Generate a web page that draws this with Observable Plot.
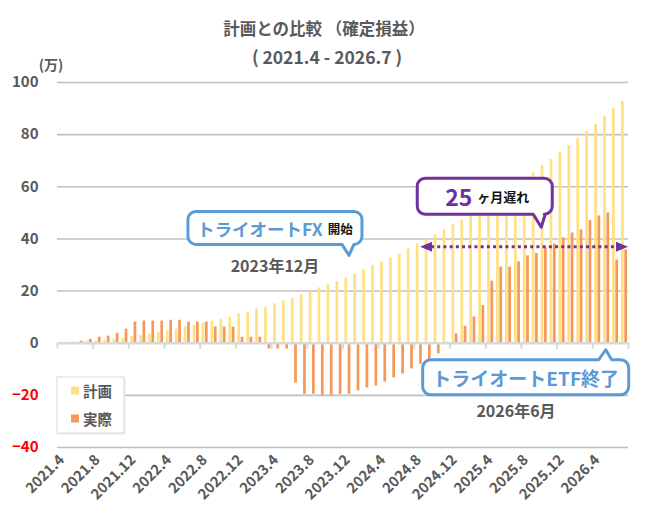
<!DOCTYPE html>
<html><head><meta charset="utf-8">
<script src="https://cdn.jsdelivr.net/npm/d3@7"></script>
<script src="https://cdn.jsdelivr.net/npm/@observablehq/plot@0.6"></script>
<style>
html,body{margin:0;padding:0;background:#fff;}
#chart{width:650px;height:531px;position:relative;}
</style></head><body><div id="chart"></div>
<script>
// ---- data ----
const startYear = 2021, startMonth = 4, monthCount = 64;
const months = Array.from({length: monthCount}, (_, i) => {
  const t = startMonth - 1 + i;
  return `${startYear + Math.floor(t / 12)}.${(t % 12) + 1}`;
});
const xTickLabels = ["2021.4","2021.8","2021.12","2022.4","2022.8","2022.12","2023.4","2023.8",
  "2023.12","2024.4","2024.8","2024.12","2025.4","2025.8","2025.12","2026.4"];
const plan = [0,0,0.4,0.8,0.8,1.2,1.5,1.9,2.7,3.1,3.5,4.2,4.6,5.4,6.2,6.9,7.7,8.5,9.2,10.0,
  11.3,11.9,13.1,13.8,15.1,16.2,17.3,18.6,19.7,21.2,22.4,23.6,25.0,26.5,28.1,29.7,31.2,32.7,34.2,36.2,
  38.1,39.6,41.5,43.5,45.4,47.3,49.5,51.5,53.5,55.5,57.5,60.0,62.0,65.3,68.2,70.4,73.2,75.8,78.5,81.2,
  83.8,87.1,90.0,92.7];
const actual = [0,0.4,0.8,1.5,2.3,2.7,3.8,5.4,8.1,8.5,8.5,8.5,8.8,8.8,8.1,8.1,8.1,6.2,6.2,6.2,
  2.3,2.3,2.3,-2.2,-2.2,-2.2,-15.3,-19.6,-19.6,-20.0,-20.0,-19.6,-19.6,-18.3,-17.2,-16.4,-14.9,-13.3,-11.8,-9.9,
  -8.1,-6.3,-4.0,0.4,3.6,6.5,10.1,14.4,23.8,29.2,29.2,31.2,33.5,34.4,36.5,38.0,40.4,42.3,43.5,47.0,
  48.8,50.0,31.9,35.8];
const yPositiveTicks = [0,20,40,60,80,100];
const yNegativeTicks = [-20,-40];
const gridValues = [-40,-20,20,40,60,80,100];
const seriesNames = ["計画","実際"];
const seriesColors = ["#FFE083","#F4995B"];
const titleText = "計画との比較 （確定損益）";
const subtitleText = "( 2021.4 - 2026.7 )";
const unitText = "(万)";

const rows = months.map((m, i) => ({month: m, plan: plan[i], actual: actual[i]}));

// ---- layout ----
const W = 650, H = 531, mL = 57, mR = 22, mT = 82, mB = 84;
const bw = (W - mL - mR) / months.length;
const FONT = '"Noto Sans CJK JP","Noto Sans",sans-serif';
const GRAY = "#595959";

const chart = Plot.plot({
  width: W, height: H,
  marginLeft: mL, marginRight: mR, marginTop: mT, marginBottom: mB,
  style: {fontFamily: FONT, fontWeight: "bold", background: "#fff", overflow: "visible"},
  x: {type: "band", domain: months, padding: 0},
  y: {domain: [-40, 100]},
  marks: [
    Plot.ruleY(gridValues, {stroke: "#c0c0c0", strokeWidth: 1.6}),
    Plot.barY(rows, {x: "month", y: "plan", fill: seriesColors[0], insetLeft: 1.9, insetRight: 4.3}),
    Plot.barY(rows, {x: "month", y: "actual", fill: seriesColors[1], insetLeft: 5.2, insetRight: 1.0}),
    Plot.ruleY([0], {stroke: "#d9d9d9", strokeWidth: 2.5}),
    Plot.ruleX(xTickLabels, {x: d => d, y1: 0, y2: -2.3, dx: -bw / 2, stroke: "#d9d9d9", strokeWidth: 2}),
    Plot.ruleX([months[months.length - 1]], {x: d => d, y1: 0, y2: -2.3, dx: bw / 2, stroke: "#d9d9d9", strokeWidth: 2}),
    Plot.axisX({ticks: xTickLabels, tickSize: 0, tickRotate: -45, tickPadding: 10, fontSize: 14.5, color: GRAY, label: null}),
    Plot.axisY(yPositiveTicks, {tickSize: 0, tickPadding: 19, fontSize: 15, color: GRAY, label: null}),
    Plot.axisY(yNegativeTicks, {tickSize: 0, tickPadding: 19, fontSize: 15, color: "#ff0000", label: null})
  ]
});
document.getElementById("chart").appendChild(chart);

// ---- annotations ----
const svg = d3.select(chart);
const xs = chart.scale("x"), ys = chart.scale("y");
const xc = m => xs.apply(m) + xs.bandwidth / 2;
const yv = v => ys.apply(v);
const xRight = xs.apply(months[months.length - 1]) + xs.bandwidth;

// titles
svg.append("text").attr("x", 324).attr("y", 28).attr("text-anchor", "middle").attr("dominant-baseline", "central")
  .attr("font-size", 16.5).attr("fill", GRAY).text(titleText);
svg.append("text").attr("x", 327).attr("y", 56).attr("text-anchor", "middle").attr("dominant-baseline", "central")
  .attr("font-size", 17.5).attr("fill", GRAY).text(subtitleText);
svg.append("text").attr("x", 51).attr("y", 64).attr("text-anchor", "middle").attr("dominant-baseline", "central")
  .attr("font-size", 14).attr("fill", GRAY).text(unitText);

function callout({x0, y0, x1, y1, r, side, b0, b1, tx, ty, color, sw}) {
  let p = `M${x0 + r},${y0}`;
  if (side === "top") p += `H${b0}L${tx},${ty}L${b1},${y0}`;
  p += `H${x1 - r}A${r},${r} 0 0 1 ${x1},${y0 + r}V${y1 - r}A${r},${r} 0 0 1 ${x1 - r},${y1}`;
  if (side === "bottom") p += `H${b1}L${tx},${ty}L${b0},${y1}`;
  p += `H${x0 + r}A${r},${r} 0 0 1 ${x0},${y1 - r}V${y0 + r}A${r},${r} 0 0 1 ${x0 + r},${y0}Z`;
  svg.append("path").attr("d", p).attr("fill", "#fff").attr("stroke", color)
    .attr("stroke-width", sw).attr("stroke-linejoin", "round");
}

const BLUE = "#5B9BD5", PURPLE = "#7030A0";

// dotted double arrow
{
  const y = yv(36.8), xl = xc("2024.8") + 1.7, xr = xRight;
  svg.append("line").attr("x1", xl + 11).attr("x2", xr - 11).attr("y1", y).attr("y2", y)
    .attr("stroke", PURPLE).attr("stroke-width", 3).attr("stroke-dasharray", "3 3.2");
  svg.append("path").attr("d", `M${xl},${y}L${xl + 12},${y - 5}L${xl + 12},${y + 5}Z`).attr("fill", PURPLE);
  svg.append("path").attr("d", `M${xr},${y}L${xr - 12},${y - 5}L${xr - 12},${y + 5}Z`).attr("fill", PURPLE);
}

// FX callout
{
  const tx = xc("2023.12") + 2, ty = yv(33.5);
  callout({x0: tx - 161, x1: tx + 13, y0: ty - 44, y1: ty - 11, r: 8, side: "bottom",
    b0: tx - 7, b1: tx + 5, tx, ty, color: BLUE, sw: 3});
  const t = svg.append("text").attr("x", tx - 74).attr("y", ty - 27).attr("text-anchor", "middle")
    .attr("dominant-baseline", "central");
  t.append("tspan").attr("font-size", 17.5).attr("fill", BLUE).text("トライオートFX");
  t.append("tspan").attr("font-size", 12.5).attr("fill", "#111").attr("dx", 5).text("開始");
  svg.append("text").attr("x", 275).attr("y", 265).attr("text-anchor", "middle").attr("dominant-baseline", "central")
    .attr("font-size", 16).attr("fill", GRAY).text("2023年12月");
}

// 25 months callout
{
  const tx = xc("2025.10") - 2, ty = yv(44.3);
  callout({x0: tx - 124, x1: tx + 11, y0: ty - 49, y1: ty - 13, r: 8, side: "bottom",
    b0: tx - 8, b1: tx + 4, tx, ty, color: PURPLE, sw: 3});
  const t = svg.append("text").attr("x", tx - 54).attr("y", ty - 31).attr("text-anchor", "middle")
    .attr("dominant-baseline", "central");
  t.append("tspan").attr("font-size", 23).attr("fill", PURPLE).text("25");
  t.append("tspan").attr("font-size", 13).attr("fill", "#111").attr("dx", 5).text("ヶ月遅れ");
}

// ETF callout
{
  const tx = xc("2026.5"), ty = yv(-2.7);
  callout({x0: tx - 183, x1: tx + 23, y0: ty + 10, y1: ty + 45, r: 8, side: "top",
    b0: tx - 7, b1: tx + 6, tx, ty, color: BLUE, sw: 3});
  svg.append("text").attr("x", tx - 80).attr("y", ty + 28).attr("text-anchor", "middle")
    .attr("dominant-baseline", "central").attr("font-size", 19).attr("fill", BLUE).text("トライオートETF終了");
  svg.append("text").attr("x", 516).attr("y", 410).attr("text-anchor", "middle").attr("dominant-baseline", "central")
    .attr("font-size", 16).attr("fill", GRAY).text("2026年6月");
}

// legend
{
  const lx = 57, ly = 377, lw = 67, lh = 56;
  svg.append("rect").attr("x", lx + 1.5).attr("y", ly + 1.5).attr("width", lw).attr("height", lh).attr("fill", "#ececec");
  svg.append("rect").attr("x", lx).attr("y", ly).attr("width", lw).attr("height", lh)
    .attr("fill", "#fff").attr("stroke", "#d9d9d9").attr("stroke-width", 1);
  seriesNames.forEach((name, i) => {
    const cy = ly + 13.5 + i * 28;
    svg.append("rect").attr("x", lx + 14).attr("y", cy - 4).attr("width", 8).attr("height", 8).attr("fill", seriesColors[i]);
    svg.append("text").attr("x", lx + 26).attr("y", cy).attr("text-anchor", "start").attr("dominant-baseline", "central")
      .attr("font-size", 14.5).attr("fill", GRAY).text(name);
  });
}
</script></body></html>
